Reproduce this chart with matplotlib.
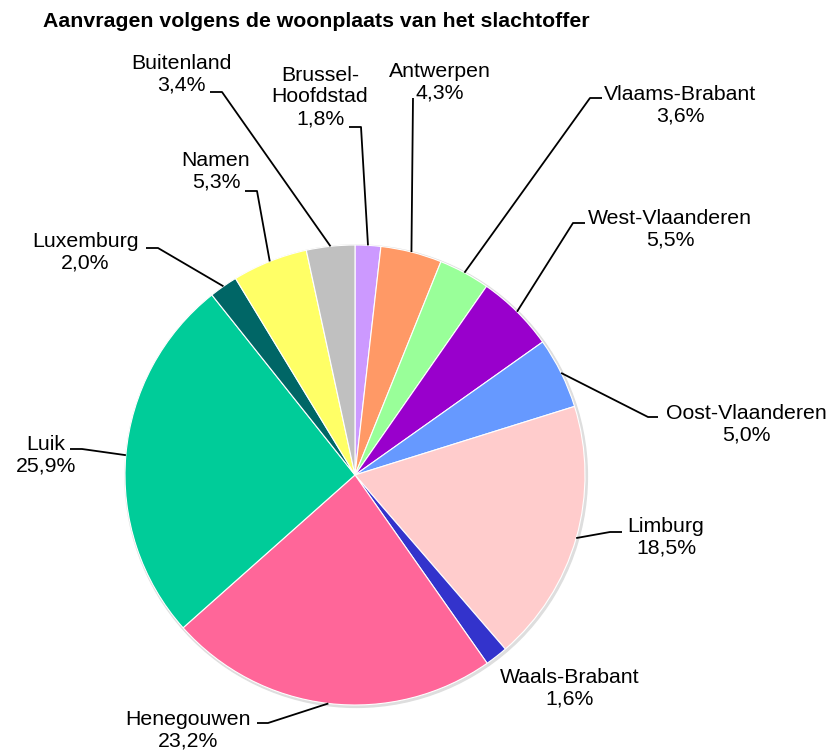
import numpy as np
import matplotlib
matplotlib.use("Agg")
import matplotlib.pyplot as plt
from matplotlib.patches import Circle

plt.rcParams['font.family'] = ['Liberation Sans', 'DejaVu Sans']

# data, clockwise from the top
regions = ['Brussel-\nHoofdstad', 'Antwerpen', 'Vlaams-Brabant', 'West-Vlaanderen',
           'Oost-Vlaanderen', 'Limburg', 'Waals-Brabant', 'Henegouwen', 'Luik',
           'Luxemburg', 'Namen', 'Buitenland']
shares = [1.8, 4.3, 3.6, 5.5, 5.0, 18.5, 1.6, 23.2, 25.9, 2.0, 5.3, 3.4]
colors = ['#CC99FF', '#FF9966', '#99FF99', '#9900CC', '#6699FF', '#FFCCCC',
          '#3333CC', '#FF6699', '#00CC99', '#006666', '#FFFF66', '#C0C0C0']

# layout in pixels (y measured from the top of the picture)
W, H = 831, 751
center = (355, 475)
radius = 230
label_pos = [(320, 97), (440, 82), (680, 105), (670, 229), (746, 424), (666, 537),
             (570, 688), (188, 730), (46, 455), (85, 252), (216, 171), (181, 74)]
line_start = [(349, 127), (413, 98), (602, 98), (585, 223), (658, 417), (622, 532),
              None, (257, 723), (70, 449), (146, 248), (245, 191), (210, 92)]
line_bend = [(361, 127), (413, 98), (590, 98), (573, 223), (648, 417), (610, 532),
             None, (268, 723), (82, 449), (158, 248), (257, 191), (222, 92)]


def fy(y):
    return H - y


fig = plt.figure(figsize=(W / 100, H / 100), dpi=100)
ax = fig.add_axes([0, 0, 1, 1])

cx, cy = center[0], fy(center[1])

# soft shadow behind the pie
ax.add_patch(Circle((cx + 1.2, cy - 1.2), radius + 1.2, color='#dedede', zorder=0))

wedges, _ = ax.pie(shares, colors=colors, startangle=90, counterclock=False,
                   center=(cx, cy), radius=radius, frame=True,
                   wedgeprops=dict(edgecolor='white', linewidth=0.8))
ax.set_xlim(0, W)
ax.set_ylim(0, H)
ax.set_aspect('equal')
ax.axis('off')

for w, name, val, pos, s, b in zip(wedges, regions, shares, label_pos, line_start, line_bend):
    txt = f"{name}\n{val:.1f}%".replace('.', ',')
    ax.text(pos[0], fy(pos[1]), txt, ha='center', va='center', fontsize=15.3,
            multialignment='center', linespacing=1.17, color='black')
    if s is None:
        continue
    mid = np.deg2rad((w.theta1 + w.theta2) / 2)
    ex = cx + radius * np.cos(mid)
    ey = cy + radius * np.sin(mid)
    ax.plot([s[0], b[0], ex], [fy(s[1]), fy(b[1]), ey], color='black', lw=1.3,
            solid_capstyle='butt', zorder=5)

ax.text(43, fy(27), 'Aanvragen volgens de woonplaats van het slachtoffer',
        ha='left', va='baseline', fontsize=15.3, fontweight='bold')

fig.savefig('out.png', dpi=100)
